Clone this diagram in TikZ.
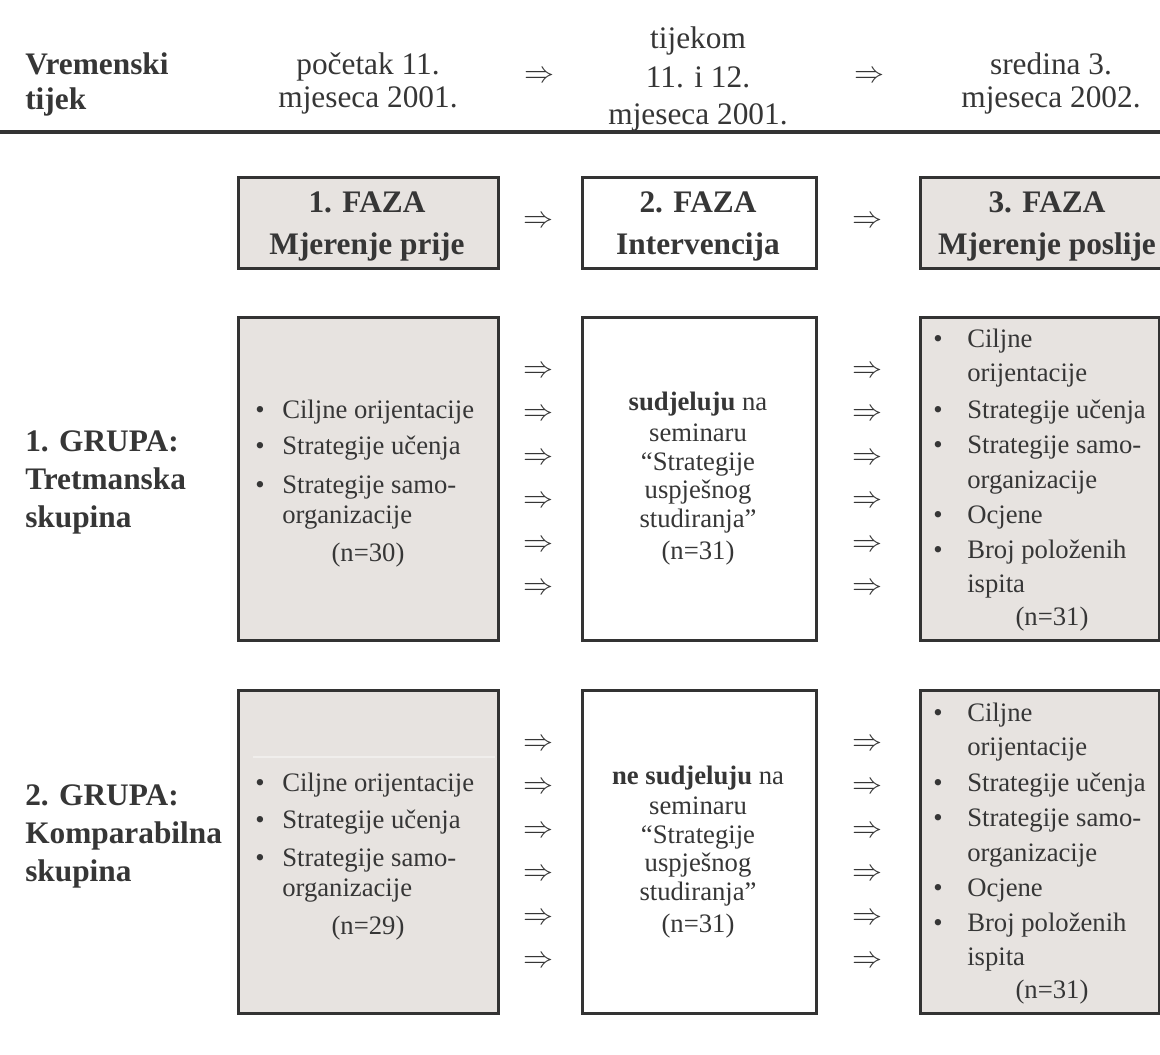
\documentclass[tikz,border=0pt]{standalone}
\usepackage{fontspec}
\setmainfont{Liberation Serif}
\usepackage{graphicx}
\definecolor{txtc}{HTML}{363636}
\definecolor{bordc}{HTML}{333333}
\definecolor{boxfill}{HTML}{E7E3E0}
\definecolor{faint}{HTML}{F0EEEC}
\newcommand\dblarrow{\resizebox{22.5pt}{!}{$\Rightarrow$}}
\tikzset{
  framebox/.style={draw=bordc, line width=2pt, inner sep=0pt, anchor=north west},
  greybox/.style={framebox, fill=boxfill},
  whitebox/.style={framebox, fill=white},
  txt/.style={text=txtc, inner sep=0pt, font=\fontsize{20}{24}\selectfont},
  bigtxt/.style={text=txtc, inner sep=0pt, font=\fontsize{23.5}{28}\selectfont},
  boldtxt/.style={text=txtc, inner sep=0pt, font=\fontsize{23.5}{28}\selectfont\bfseries},
  arr/.style={text=txtc, inner sep=0pt},
}
\begin{document}
\begin{tikzpicture}[x=0.75pt,y=-0.75pt]
\useasboundingbox (0,0) rectangle (1160,1055);
\fill[white] (0,0) rectangle (1160,1055);

% ---------- timeline row ----------
\node[boldtxt, anchor=base west] (vr1) at (25,75) {Vremenski};
\node[boldtxt, anchor=base west] (vr2) at (25,110) {tijek};
\node[bigtxt, anchor=base] (t11) at (368,75) {početak 11.};
\node[bigtxt, anchor=base] (t12) at (368,108) {mjeseca 2001.};
\node[arr] (ta1) at (539,77) {\dblarrow};
\node[bigtxt, anchor=base] (t21) at (698,49) {tijekom};
\node[bigtxt, anchor=base] (t22) at (698,88) {11. i 12.};
\node[bigtxt, anchor=base] (t23) at (698,125) {mjeseca 2001.};
\node[arr] (ta2) at (869,77) {\dblarrow};
\node[bigtxt, anchor=base] (t31) at (1051,75) {sredina 3.};
\node[bigtxt, anchor=base] (t32) at (1051,108) {mjeseca 2002.};
\draw[draw=bordc, line width=2.6pt] (0,132) -- (1160,132);

% ---------- phase row ----------
\node[greybox, minimum width=260*0.75pt, minimum height=91*0.75pt] (ph1) at (237,176) {};
\node[whitebox, minimum width=234*0.75pt, minimum height=91*0.75pt] (ph2) at (581,176) {};
\node[greybox, minimum width=262*0.75pt, minimum height=91*0.75pt] (ph3) at (919,176) {};
\node[boldtxt, anchor=base] (ph1a) at (367,213) {1. FAZA};
\node[boldtxt, anchor=base] (ph1b) at (367,255) {Mjerenje prije};
\node[boldtxt, anchor=base] (ph2a) at (698,213) {2. FAZA};
\node[boldtxt, anchor=base] (ph2b) at (698,255) {Intervencija};
\node[boldtxt, anchor=base] (ph3a) at (1047,213) {3. FAZA};
\node[boldtxt, anchor=base] (ph3b) at (1047,255) {Mjerenje poslije};
\node[arr] (pa1) at (538,222) {\dblarrow};
\node[arr] (pa2) at (867,222) {\dblarrow};

% ---------- group rows ----------
\foreach \r/\off/\nA/\gnum/\gname/\goff/\part in {1/0/30/1/Tretmanska/0/{}, 2/373/29/2/Komparabilna/-19/{ne }}{
  % boxes
  \node[greybox, minimum width=260*0.75pt, minimum height=323*0.75pt] (g\r b1) at (237,316+\off) {};
  \node[whitebox, minimum width=234*0.75pt, minimum height=323*0.75pt] (g\r b2) at (581,316+\off) {};
  \node[greybox, minimum width=239*0.75pt, minimum height=323*0.75pt] (g\r b3) at (919,316+\off) {};
  % group label
  \node[boldtxt, anchor=base west] (g\r l1) at (25,451+\off+\goff) {\gnum. GRUPA:};
  \node[boldtxt, anchor=base west] (g\r l2) at (25,489+\off+\goff) {\gname};
  \node[boldtxt, anchor=base west] (g\r l3) at (25,527+\off+\goff) {skupina};
  % box 1 contents
  \node[txt, anchor=base] (g\r u1) at (260,418+\off) {\textbullet};
  \node[txt, anchor=base west] (g\r v1) at (282,418+\off) {Ciljne orijentacije};
  \node[txt, anchor=base] (g\r u2) at (260,455+\off) {\textbullet};
  \node[txt, anchor=base west] (g\r v2) at (282,455+\off) {Strategije učenja};
  \node[txt, anchor=base] (g\r u3) at (260,493+\off) {\textbullet};
  \node[txt, anchor=base west] (g\r v3) at (282,493+\off) {Strategije samo-};
  \node[txt, anchor=base west] (g\r v4) at (282,523+\off) {organizacije};
  \node[txt, anchor=base] (g\r v5) at (368,561+\off) {(n=\nA)};
  % box 2 contents
  \node[txt, anchor=base] (g\r w1) at (698,411+\off) {\textbf{\part sudjeluju} na};
  \node[txt, anchor=base] (g\r w2) at (698,441+\off) {seminaru};
  \node[txt, anchor=base] (g\r w3) at (698,470+\off) {“Strategije};
  \node[txt, anchor=base] (g\r w4) at (698,498+\off) {uspješnog};
  \node[txt, anchor=base] (g\r w5) at (698,527+\off) {studiranja”};
  \node[txt, anchor=base] (g\r w6) at (698,559+\off) {(n=31)};
  % box 3 contents
  \node[txt, anchor=base] (g\r x1) at (938,348+\off) {\textbullet};
  \node[txt, anchor=base west] (g\r y1) at (967,348+\off) {Ciljne};
  \node[txt, anchor=base west] (g\r y2) at (967,382+\off) {orijentacije};
  \node[txt, anchor=base] (g\r x3) at (938,418+\off) {\textbullet};
  \node[txt, anchor=base west] (g\r y3) at (967,418+\off) {Strategije učenja};
  \node[txt, anchor=base] (g\r x4) at (938,453+\off) {\textbullet};
  \node[txt, anchor=base west] (g\r y4) at (967,453+\off) {Strategije samo-};
  \node[txt, anchor=base west] (g\r y5) at (967,488+\off) {organizacije};
  \node[txt, anchor=base] (g\r x6) at (938,523+\off) {\textbullet};
  \node[txt, anchor=base west] (g\r y6) at (967,523+\off) {Ocjene};
  \node[txt, anchor=base] (g\r x7) at (938,558+\off) {\textbullet};
  \node[txt, anchor=base west] (g\r y7) at (967,558+\off) {Broj položenih};
  \node[txt, anchor=base west] (g\r y8) at (967,592+\off) {ispita};
  \node[txt, anchor=base] (g\r y9) at (1052,625+\off) {(n=31)};
  % arrows
  \foreach \k in {0,...,5}{
    \node[arr] (g\r al\k) at (538,372+\off+43.4*\k) {\dblarrow};
    \node[arr] (g\r ar\k) at (867,372+\off+43.4*\k) {\dblarrow};
  }
}
% faint line inside second group's first box
\draw[draw=faint, line width=0.8pt] (253,757) -- (495,757);
\end{tikzpicture}
\end{document}
